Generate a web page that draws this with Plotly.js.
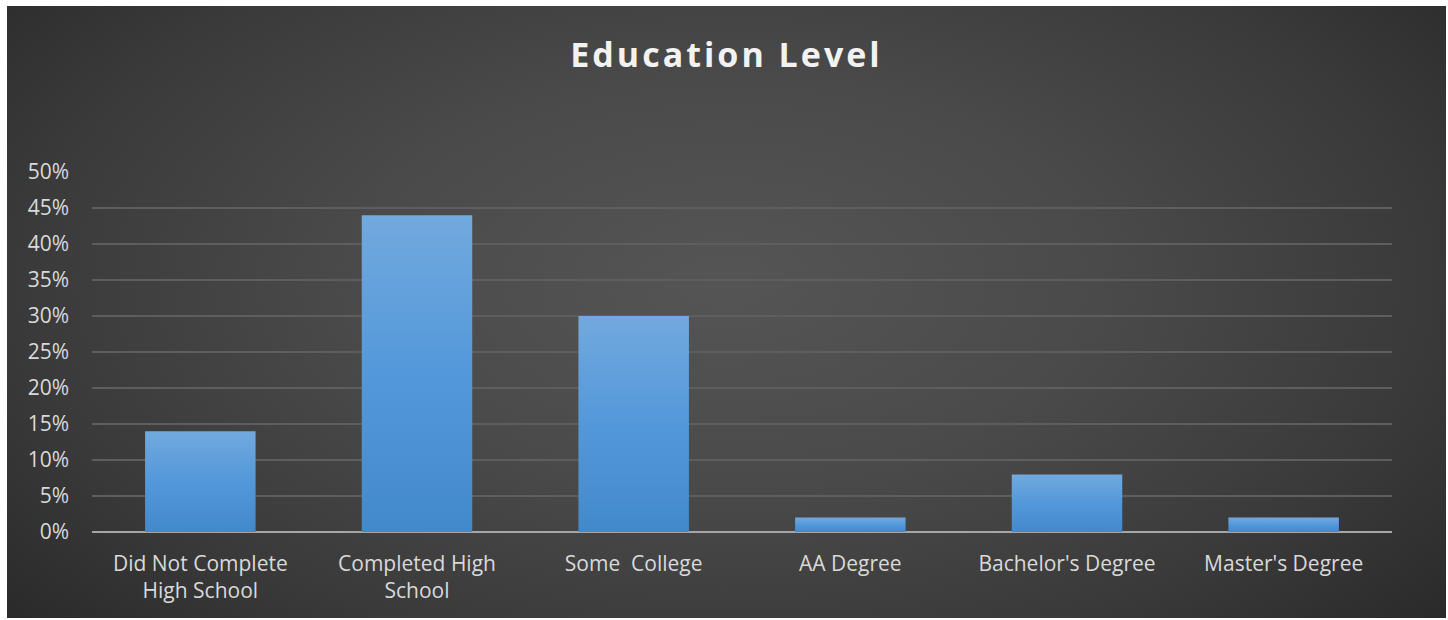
<!DOCTYPE html>
<html>
<head>
<meta charset="utf-8">
<script src="https://cdn.plot.ly/plotly-3.0.1.min.js"></script>
<style>
  html, body { margin: 0; padding: 0; background: #ffffff; }
  #wrap {
    position: absolute; left: 7px; top: 6px; width: 1439px; height: 612px;
    background: radial-gradient(ellipse 75% 95% at 50% 45%, #555555 0%, #4a4a4a 35%, #3a3a3a 65%, #222222 100%);
  }
  #chart { width: 1439px; height: 612px; }
  .gtitle { letter-spacing: 3px; }
</style>
</head>
<body>
<div id="wrap"><div id="chart"></div></div>
<script>
const categories = [
  "Did Not Complete<br>High School",
  "Completed High<br>School",
  "Some\u00a0 College",
  "AA Degree",
  "Bachelor's Degree",
  "Master's Degree"
];
const shares = [0.14, 0.44, 0.30, 0.02, 0.08, 0.02];
const yTicks = [0, 0.05, 0.10, 0.15, 0.20, 0.25, 0.30, 0.35, 0.40, 0.45, 0.50];
const yTickText = ["0%", "5%", "10%", "15%", "20%", "25%", "30%", "35%", "40%", "45%", "50%"];

const trace = {
  type: "bar",
  x: categories,
  y: shares,
  marker: { color: "#5597d6", line: { width: 0 } },
  hoverinfo: "skip"
};

const layout = {
  width: 1439, height: 612,
  paper_bgcolor: "rgba(0,0,0,0)",
  plot_bgcolor: "rgba(0,0,0,0)",
  margin: { l: 85, r: 54, t: 166, b: 86 },
  bargap: 0.49,
  showlegend: false,
  font: { family: "Open Sans, sans-serif", color: "#d9d9d9", size: 20 },
  title: {
    text: "<b>Education Level</b>",
    font: { family: "Open Sans, sans-serif", size: 34, color: "#f2f2f2" },
    x: 0.5, xanchor: "center",
    y: 0.92, yanchor: "middle", yref: "container"
  },
  xaxis: {
    type: "category",
    showgrid: false,
    showline: false,
    zeroline: false,
    ticks: "",
    ticklabelstandoff: 17,
    tickfont: { size: 21, color: "#d9d9d9" }
  },
  yaxis: {
    range: [0, 0.5],
    tickvals: yTicks,
    ticktext: yTickText,
    showgrid: true,
    gridcolor: "#5e5e5e",
    gridwidth: 1.5,
    zeroline: true,
    zerolinecolor: "#a6a6a6",
    zerolinewidth: 2,
    showline: false,
    ticks: "",
    ticklabelstandoff: 22,
    tickfont: { size: 21, color: "#d9d9d9" },
    fixedrange: true
  }
};

Plotly.newPlot("chart", [trace], layout, { displayModeBar: false, staticPlot: true }).then(function (gd) {
  const svg = gd.querySelector("svg.main-svg");
  const ns = "http://www.w3.org/2000/svg";
  let defs = svg.querySelector("defs");
  if (!defs) { defs = document.createElementNS(ns, "defs"); svg.insertBefore(defs, svg.firstChild); }
  const grad = document.createElementNS(ns, "linearGradient");
  grad.setAttribute("id", "barGrad");
  grad.setAttribute("x1", "0"); grad.setAttribute("y1", "0");
  grad.setAttribute("x2", "0"); grad.setAttribute("y2", "1");
  [["0", "#72a9de"], ["0.5", "#5398da"], ["1", "#4289cb"]].forEach(function (s) {
    const st = document.createElementNS(ns, "stop");
    st.setAttribute("offset", s[0]);
    st.setAttribute("stop-color", s[1]);
    grad.appendChild(st);
  });
  defs.appendChild(grad);
  gd.querySelectorAll(".bars .point path").forEach(function (p) {
    p.style.fill = "url(#barGrad)";
  });
});
</script>
</body>
</html>
